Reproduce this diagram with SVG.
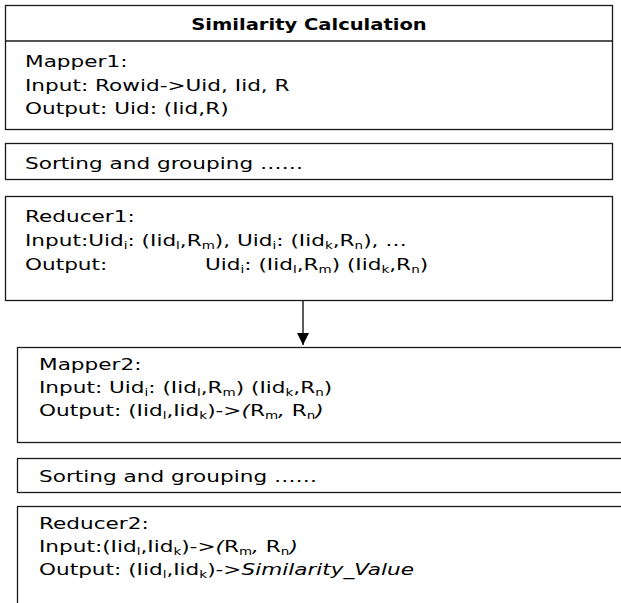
<svg xmlns="http://www.w3.org/2000/svg" width="621" height="603" viewBox="0 0 621 603">
<style>
.box{fill:#fff;stroke:#1a1a1a;stroke-width:1.3}
text{font-family:"DejaVu Sans","Liberation Sans",sans-serif;font-size:16px;fill:#000}
.t{font-weight:bold}
.s{font-size:10px}
.i{font-style:italic}
</style>
<defs>
<marker id="ah" markerWidth="12" markerHeight="12" refX="12" refY="6" orient="auto" markerUnits="userSpaceOnUse" viewBox="0 0 12 12">
<path d="M0,0 L12,6 L0,12 Z" fill="#000"/>
</marker>
</defs>
<rect width="621" height="603" fill="#fff"/>
<g id="mapper1">
<rect class="box" x="5.5" y="5.5" width="607" height="124"/>
<line x1="5.5" y1="41" x2="612.5" y2="41" stroke="#1a1a1a" stroke-width="1.3"/>
<text class="t" transform="translate(309,30) scale(1.22,1)" text-anchor="middle">Similarity Calculation</text>
<text transform="translate(25,67) scale(1.35,1)">Mapper1:</text>
<text transform="translate(25,91) scale(1.35,1)">Input: Rowid-&gt;Uid, Iid, R</text>
<text transform="translate(25,114) scale(1.35,1)">Output: Uid: (Iid,R)</text>
</g>
<g id="sort1">
<rect class="box" x="5.5" y="143.5" width="607" height="36"/>
<text transform="translate(25,169) scale(1.35,1)">Sorting and grouping ……</text>
</g>
<g id="reducer1">
<rect class="box" x="5.5" y="196.5" width="607" height="104"/>
<text transform="translate(25,222) scale(1.35,1)">Reducer1:</text>
<text transform="translate(25,246) scale(1.35,1)">Input:Uid<tspan class="s" dy="3">i</tspan><tspan dy="-3">: (Iid</tspan><tspan class="s" dy="3">l</tspan><tspan dy="-3">,R</tspan><tspan class="s" dy="3">m</tspan><tspan dy="-3">), Uid</tspan><tspan class="s" dy="3">i</tspan><tspan dy="-3">: (Iid</tspan><tspan class="s" dy="3">k</tspan><tspan dy="-3">,R</tspan><tspan class="s" dy="3">n</tspan><tspan dy="-3">), …</tspan></text>
<text transform="translate(25,270) scale(1.35,1)">Output:</text>
<text transform="translate(205,270) scale(1.35,1)">Uid<tspan class="s" dy="3">i</tspan><tspan dy="-3">: (Iid</tspan><tspan class="s" dy="3">l</tspan><tspan dy="-3">,R</tspan><tspan class="s" dy="3">m</tspan><tspan dy="-3">) (Iid</tspan><tspan class="s" dy="3">k</tspan><tspan dy="-3">,R</tspan><tspan class="s" dy="3">n</tspan><tspan dy="-3">)</tspan></text>
</g>
<g id="connectors">
<line x1="303" y1="301" x2="303" y2="345" stroke="#000" stroke-width="1.3" marker-end="url(#ah)"/>
</g>
<g id="mapper2">
<rect class="box" x="17.5" y="347.5" width="612" height="95"/>
<text transform="translate(39,370) scale(1.35,1)">Mapper2:</text>
<text transform="translate(39,393) scale(1.35,1)">Input: Uid<tspan class="s" dy="3">i</tspan><tspan dy="-3">: (Iid</tspan><tspan class="s" dy="3">l</tspan><tspan dy="-3">,R</tspan><tspan class="s" dy="3">m</tspan><tspan dy="-3">) (Iid</tspan><tspan class="s" dy="3">k</tspan><tspan dy="-3">,R</tspan><tspan class="s" dy="3">n</tspan><tspan dy="-3">)</tspan></text>
<text transform="translate(39,416) scale(1.35,1)">Output: (Iid<tspan class="s" dy="3">l</tspan><tspan dy="-3">,Iid</tspan><tspan class="s" dy="3">k</tspan><tspan dy="-3">)-&gt;</tspan><tspan class="i">(</tspan>R<tspan class="s" dy="3">m</tspan><tspan class="i" dy="-3">,</tspan> R<tspan class="s" dy="3">n</tspan><tspan class="i" dy="-3">)</tspan></text>
</g>
<g id="sort2">
<rect class="box" x="17.5" y="458.5" width="612" height="34"/>
<text transform="translate(39,482) scale(1.35,1)">Sorting and grouping ……</text>
</g>
<g id="reducer2">
<rect class="box" x="17.5" y="506.5" width="612" height="110"/>
<text transform="translate(39,529) scale(1.35,1)">Reducer2:</text>
<text transform="translate(39,552) scale(1.35,1)">Input:(Iid<tspan class="s" dy="3">l</tspan><tspan dy="-3">,Iid</tspan><tspan class="s" dy="3">k</tspan><tspan dy="-3">)-&gt;</tspan><tspan class="i">(</tspan>R<tspan class="s" dy="3">m</tspan><tspan class="i" dy="-3">,</tspan> R<tspan class="s" dy="3">n</tspan><tspan class="i" dy="-3">)</tspan></text>
<text transform="translate(39,575) scale(1.35,1)">Output: (Iid<tspan class="s" dy="3">l</tspan><tspan dy="-3">,Iid</tspan><tspan class="s" dy="3">k</tspan><tspan dy="-3">)-&gt;</tspan><tspan class="i">Similarity_Value</tspan></text>
</g>
</svg>
